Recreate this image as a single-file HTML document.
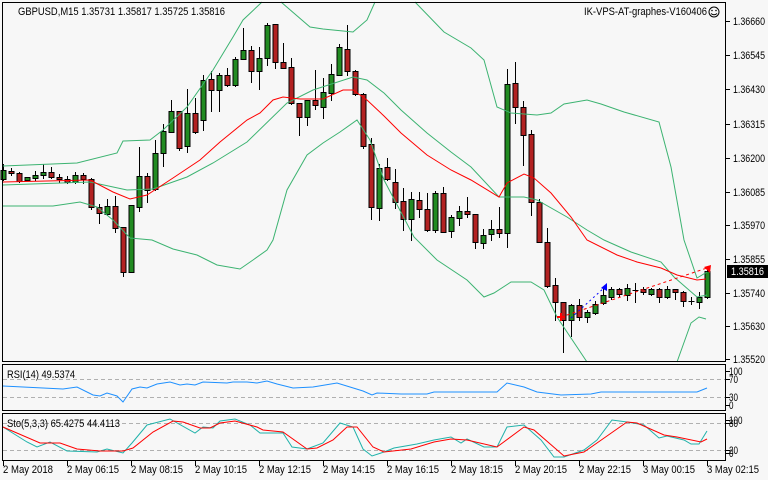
<!DOCTYPE html>
<html><head><meta charset="utf-8"><style>
html,body{margin:0;padding:0;background:#f7f7f7;}
svg{display:block;}
text{font-family:"Liberation Sans",sans-serif;font-size:11px;fill:#000;}
</style></head><body>
<svg id="s" width="768" height="480" viewBox="0 0 768 480" xmlns="http://www.w3.org/2000/svg">
<rect x="0" y="0" width="768" height="480" fill="#f7f7f7"/>
<g id="g"></g>
<g fill="none" stroke="#000" stroke-width="1">
<rect x="2.5" y="2.5" width="723" height="359"/>
<rect x="2.5" y="364.5" width="723" height="46"/>
<rect x="2.5" y="413.5" width="723" height="47"/>
</g>
<text x="18" y="15" textLength="207" lengthAdjust="spacingAndGlyphs">GBPUSD,M15  1.35731 1.35817 1.35725 1.35816</text>
<text x="584" y="15" textLength="123" lengthAdjust="spacingAndGlyphs">IK-VPS-AT-graphes-V160406</text>
<circle cx="714" cy="12" r="5" fill="none" stroke="#000"/><circle cx="712" cy="10.5" r="0.8"/><circle cx="716" cy="10.5" r="0.8"/><path d="M711 13.5 Q714 16 717 13.5" fill="none" stroke="#000"/>
<text x="7" y="378" textLength="68" lengthAdjust="spacingAndGlyphs">RSI(14) 49.5374</text>
<text x="7" y="427" textLength="113" lengthAdjust="spacingAndGlyphs">Sto(5,3,3) 65.4275 44.4113</text>
<g id="ax"></g>
<rect x="727" y="265" width="41" height="13" fill="#000"/>
<text x="731" y="275" style="fill:#fff" textLength="33" lengthAdjust="spacingAndGlyphs">1.35816</text>
</svg>
<script>
var NS="http://www.w3.org/2000/svg",g=document.getElementById('g'),ax=document.getElementById('ax');
function el(p,t,a,txt){var e=document.createElementNS(NS,t);for(var k in a)e.setAttribute(k,a[k]);if(txt)e.textContent=txt;p.appendChild(e);return e;}
function pl(pts,c,extra){var a={points:pts.map(function(p){return p.join(',')}).join(' '),fill:'none',stroke:c,'stroke-width':1};for(var k in extra)a[k]=extra[k];el(g,'polyline',a);}
[[379],[397],[423],[450]].forEach(function(y){el(g,'line',{x1:3,x2:725,y1:y[0]+.5,y2:y[0]+.5,stroke:'#b0b0b0','stroke-dasharray':'4,3'});});
var C=[['g',170,179,164,180],['r',171,173,168,175],['r',173,181,172,182],['g',177,180,177,180],['g',175,178,171,180],['g',172,175,164,178],['r',172,177,167,178],['r',177,179,174,182],['r',179,182,176,183],['g',175,182,172,183],['r',175,179,173,183],['r',179,207,178,209],
['r',207,213,204,223],['g',206,214,199,215],['r',206,228,196,232],['r',227,272,227,276],['g',205,272,205,272],['g',176,207,147,211],['r',176,190,173,202],['g',153,189,140,190],['g',131,153,124,166],['g',111,132,100,132],['r',111,148,111,150],['g',113,146,89,152],['r',113,132,98,133],['g',80,120,75,130],['r',79,90,71,111],['g',75,90,73,111],['r',75,85,68,86],['g',59,85,57,86],['g',50,59,28,59],['r',50,71,46,82],['g',58,71,47,89],['g',25,58,23,65],['r',24,62,24,68],['r',62,68,43,68],['r',67,103,58,104],['r',103,117,103,135],['g',100,117,100,125],['r',100,105,70,109],['g',92,107,78,118],['g',74,93,64,100],['g',47,75,44,75],['r',49,71,25,75],['r',71,94,70,95],['r',94,146,93,148],['r',144,207,138,219],['g',168,208,164,220],
['r',167,179,158,180],['r',182,202,169,208],['r',201,219,188,230],['g',199,219,192,240],['r',200,209,192,217],['r',209,230,193,231],['g',193,230,191,232],['r',193,232,187,232],['g',217,231,215,237],['g',211,218,206,225],['r',211,214,197,217],['r',214,242,215,248],['g',235,243,229,248],['g',229,234,220,240],['r',229,233,207,237],['g',84,233,69,247],['r',83,107,62,123],['r',107,135,101,165],['r',134,202,130,215],['r',202,242,199,242],['r',242,286,228,287],['r',285,302,278,320],['r',302,320,302,352],['g',305,320,304,336],['r',305,317,299,320],['g',312,317,310,322],['g',304,313,301,314],['g',295,303,287,304],['g',289,297,287,299],['r',289,294,288,296],['g',288,295,284,300],['d',290,290,283,302],['r',289,292,287,294],['g',289,294,288,295],['r',289,297,288,302],['g',289,297,286,298],['r',289,292,289,299],['r',292,301,291,306],['d',301,301,297,304],['g',297,302,292,308],['g',271,297,270,298]];
C.forEach(function(c,i){var x=Math.round(3+8*i)+.5;
el(g,'line',{x1:x,x2:x,y1:c[3],y2:c[4]+1,stroke:'#000'});
if(c[0]=='d'){el(g,'line',{x1:x-3,x2:x+3,y1:c[1]+.5,y2:c[1]+.5,stroke:'#000'});}
else el(g,'rect',{x:x-2.5,y:c[1]+.5,width:5,height:Math.max(1,c[2]-c[1]),fill:c[0]=='g'?'#228b22':'#b22222',stroke:'#000'});});
var gc='#3cb371';
pl([[3,166],[77,163],[117,153],[123,141],[150,140],[163,130],[187,107],[213,70],[233,37],[243,20],[262,2]],gc);
pl([[281,2],[310,27],[323,29],[353,32],[367,20],[375,2]],gc);
pl([[415,2],[444,32],[471,48],[484,60],[497,107],[511,113],[537,115],[551,113],[564,104],[587,100],[601,104],[624,112],[659,122],[671,167],[684,240],[697,278],[707,272]],gc);
pl([[3,185],[90,182],[127,190],[153,189],[187,177],[213,163],[247,142],[287,103],[313,90],[353,77],[367,80],[384,93],[401,110],[427,133],[451,152],[471,167],[499,197],[524,197],[537,200],[567,217],[587,230],[604,240],[631,252],[661,262],[674,277],[697,297],[707,295]],gc);
pl([[3,206],[53,206],[80,202],[97,207],[113,220],[130,238],[152,240],[173,249],[197,255],[217,265],[240,269],[253,260],[267,250],[273,240],[287,190],[307,155],[323,143],[340,132],[357,120],[370,140],[384,180],[414,237],[437,260],[467,280],[484,297],[494,293],[511,282],[531,282],[544,290],[557,317],[587,362]],gc);
pl([[677,362],[691,323],[699,317],[706,319]],gc);
pl([[3,182],[90,180],[113,192],[130,199],[147,195],[173,178],[200,160],[220,142],[247,120],[260,113],[273,100],[283,97],[300,99],[323,99],[343,90],[353,90],[367,100],[384,116],[401,133],[427,155],[451,170],[471,180],[499,197],[507,183],[524,174],[534,178],[551,193],[571,217],[587,240],[617,255],[637,262],[661,268],[677,275],[697,280],[706,279]],'#ff0000');
el(g,'line',{x1:561,y1:317,x2:707,y2:268,stroke:'#ff0000','stroke-dasharray':'3,3'});
el(g,'line',{x1:571,y1:318,x2:605,y2:287,stroke:'#0000ff','stroke-dasharray':'2,3'});
el(g,'polygon',{points:'607,283 601,288 607,291',fill:'#0000ff'});
el(g,'polygon',{points:'711,265 704,267 710,273',fill:'#ff0000'});
el(g,'path',{d:'M557 317 H565 M561 313 V321',stroke:'#ff0000','stroke-width':2});
pl([[3,386],[63,389],[77,387],[93,395],[100,396],[107,393],[117,396],[123,402],[132,389],[140,387],[147,388],[157,384],[170,382],[180,385],[187,384],[195,385],[203,382],[227,383],[233,382],[247,382],[257,383],[267,381],[277,384],[293,388],[313,387],[337,383],[350,387],[363,391],[372,395],[377,393],[401,394],[427,394],[434,392],[497,392],[507,383],[524,387],[537,392],[561,395],[591,394],[601,392],[697,392],[707,388]],'#1e90ff');
pl([[3,427],[27,442],[37,447],[50,442],[67,451],[97,452],[107,449],[123,453],[132,443],[147,425],[170,419],[195,433],[203,427],[213,428],[220,421],[235,419],[250,425],[260,433],[283,433],[292,447],[307,449],[323,443],[340,423],[353,427],[363,449],[372,456],[384,452],[394,448],[417,444],[434,440],[451,437],[461,443],[467,439],[484,447],[497,447],[507,427],[524,425],[541,440],[554,457],[564,457],[584,450],[597,440],[612,420],[627,422],[644,425],[659,438],[667,436],[684,440],[691,444],[699,444],[707,431]],'#20b2aa');
pl([[3,427],[40,443],[60,443],[77,449],[100,451],[123,451],[133,448],[153,432],[173,421],[183,422],[200,428],[210,428],[220,423],[235,421],[257,427],[263,430],[283,432],[307,449],[317,448],[333,440],[347,427],[357,427],[373,447],[384,452],[411,449],[434,442],[451,439],[467,440],[497,447],[524,427],[534,430],[564,456],[584,452],[597,443],[627,422],[637,423],[664,435],[677,437],[701,442],[707,439]],'#ff0000');
function tx(x,y,s,w){var e=el(ax,'text',{x:x,y:y},s);if(w){e.setAttribute('textLength',w);e.setAttribute('lengthAdjust','spacingAndGlyphs');}}
[[21,'1.36660'],[55,'1.36545'],[89,'1.36430'],[124,'1.36315'],[158,'1.36200'],[192,'1.36085'],[225,'1.35970'],[259,'1.35855'],[293,'1.35740'],[326,'1.35630'],[359,'1.35520']].forEach(function(a){
el(ax,'line',{x1:726,x2:730,y1:a[0]+.5,y2:a[0]+.5,stroke:'#000'});tx(733,a[0]+4,a[1],32);});
[[371,'100'],[379,'70'],[397,'30'],[405,'0'],[420,'100'],[423,'80'],[450,'20'],[453,'0']].forEach(function(a){
el(ax,'line',{x1:726,x2:730,y1:a[0]+.5,y2:a[0]+.5,stroke:'#000'});tx(729,a[0]+4,a[1],a[1].length*4.5);});
['2 May 2018','2 May 06:15','2 May 08:15','2 May 10:15','2 May 12:15','2 May 14:15','2 May 16:15','2 May 18:15','2 May 20:15','2 May 22:15','3 May 00:15','3 May 02:15'].forEach(function(t,i){
var x=3+64*i;el(ax,'line',{x1:x+.5,x2:x+.5,y1:461,y2:466,stroke:'#000'});tx(x,473,t,t.length==10?50:52);});
</script>
</body></html>
